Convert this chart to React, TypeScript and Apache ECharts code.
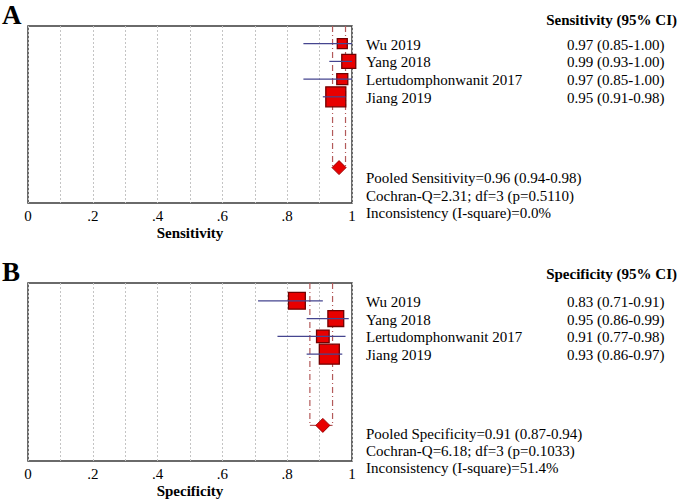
import React, { useEffect, useRef } from "react";
import * as echarts from "echarts";

const studies = ["Wu 2019", "Yang 2018", "Lertudomphonwanit 2017", "Jiang 2019"];
const sensEst = [0.97, 0.99, 0.97, 0.95];
const sensLo = [0.85, 0.93, 0.85, 0.91];
const sensHi = [1.0, 1.0, 1.0, 0.98];
const sensWeights = [0.5, 0.7, 0.55, 1.0];
const specEst = [0.83, 0.95, 0.91, 0.93];
const specLo = [0.71, 0.86, 0.77, 0.86];
const specHi = [0.91, 0.99, 0.98, 0.97];
const specWeights = [0.84, 0.79, 0.63, 1.0];
const sensPooled = [0.96, 0.94, 0.98];
const specPooled = [0.91, 0.87, 0.94];
const sensStats = ["Cochran-Q=2.31; df=3 (p=0.5110)", "Inconsistency (I-square)=0.0%"];
const specStats = ["Cochran-Q=6.18; df=3 (p=0.1033)", "Inconsistency (I-square)=51.4%"];
const xTicks = ["0", ".2", ".4", ".6", ".8", "1"];

const FONT = "Liberation Serif";
const rows = [1, 2, 3, 4];
const pooledRow = 8;

const fmt = (e: number, l: number, h: number) =>
  `${e.toFixed(2)} (${l.toFixed(2)}-${h.toFixed(2)})`;

function studyRender(params: any, api: any) {
  const est = api.value(0), lo = api.value(1), hi = api.value(2), row = api.value(3), w = api.value(4);
  const c = api.coord([est, row]);
  const l = api.coord([lo, row]);
  const h = api.coord([hi, row]);
  const s = w * 20;
  return {
    type: "group",
    children: [
      {
        type: "rect",
        shape: { x: c[0] - s / 2, y: c[1] - s / 2, width: s, height: s },
        style: { fill: "#e80000", stroke: "#700000", lineWidth: 1.3 },
      },
      {
        type: "line",
        shape: { x1: l[0], y1: l[1], x2: h[0], y2: h[1] },
        style: { stroke: "#45458f", lineWidth: 1.2 },
      },
    ],
  };
}

function pooledRender(params: any, api: any) {
  const est = api.value(0), lo = api.value(1), hi = api.value(2), row = api.value(3);
  const c = api.coord([est, row]);
  const lTop = api.coord([lo, 0]);
  const hTop = api.coord([hi, 0]);
  const lB = api.coord([lo, row]);
  const hB = api.coord([hi, row]);
  const dash = { stroke: "#b35a5a", lineWidth: 1.2, lineDash: [6, 3, 1, 3] };
  const d = 7;
  return {
    type: "group",
    children: [
      { type: "line", shape: { x1: lTop[0], y1: lTop[1], x2: lB[0], y2: lB[1] }, style: dash },
      { type: "line", shape: { x1: hTop[0], y1: hTop[1], x2: hB[0], y2: hB[1] }, style: dash },
      { type: "line", shape: { x1: lB[0], y1: lB[1], x2: hB[0], y2: hB[1] }, style: { stroke: "#b35a5a", lineWidth: 1.2 } },
      {
        type: "polygon",
        shape: { points: [[c[0] - d, c[1]], [c[0], c[1] - d], [c[0] + d, c[1]], [c[0], c[1] + d]] },
        style: { fill: "#e80000", stroke: "#9a0000", lineWidth: 1 },
      },
    ],
  };
}

const panels = [
  { letter: "A", top: 26, height: 177, name: "Sensitivity", est: sensEst, lo: sensLo, hi: sensHi, w: sensWeights, pooled: sensPooled, stats: sensStats, headerY: 20, pooledY: [178, 196, 213] },
  { letter: "B", top: 283, height: 178, name: "Specificity", est: specEst, lo: specLo, hi: specHi, w: specWeights, pooled: specPooled, stats: specStats, headerY: 274, pooledY: [434, 451, 468] },
];

function txt(x: number, y: number, text: string, size: number, bold: boolean, align: string) {
  return {
    type: "text", x, y,
    style: {
      text, fontFamily: FONT, fontSize: size, fontWeight: bold ? "bold" : "normal",
      fill: "#000", textAlign: align, textVerticalAlign: "middle",
    },
  };
}

export default function App() {
  const ref = useRef<HTMLDivElement>(null);
  useEffect(() => {
    if (!ref.current) return;
    const chart = echarts.init(ref.current, null, { renderer: "svg" });
    const grids: any[] = [];
    const xAxes: any[] = [];
    const yAxes: any[] = [];
    const series: any[] = [];
    const graphics: any[] = [];
    panels.forEach((p, i) => {
      grids.push({ left: 28, top: p.top, width: 324, height: p.height, show: true, borderColor: "#3a3a3a", borderWidth: 1.5, backgroundColor: "#fff" });
      xAxes.push({
        type: "value", gridIndex: i, min: 0, max: 1, interval: 0.1,
        axisLine: { show: false }, axisTick: { show: false },
        splitLine: { show: true, lineStyle: { type: [2, 2], color: "#c4c4c4", width: 1 } },
        axisLabel: {
          margin: 5, fontFamily: FONT, fontSize: 15, color: "#000",
          formatter: (v: number) => { const r = Math.round(v * 10); return r % 2 === 0 ? xTicks[r / 2] : ""; },
        },
        name: p.name, nameLocation: "middle", nameGap: 22,
        nameTextStyle: { fontFamily: FONT, fontSize: 15, fontWeight: "bold", color: "#000" },
      });
      yAxes.push({ type: "value", gridIndex: i, min: 0, max: 10, inverse: true, show: false });
      series.push({
        type: "custom", xAxisIndex: i, yAxisIndex: i, renderItem: pooledRender, clip: false,
        data: [[p.pooled[0], p.pooled[1], p.pooled[2], pooledRow]],
      });
      series.push({
        type: "custom", xAxisIndex: i, yAxisIndex: i, renderItem: studyRender, clip: false,
        data: studies.map((_, k) => [p.est[k], p.lo[k], p.hi[k], rows[k], p.w[k]]),
      });
      const rowH = p.height / 10;
      graphics.push(txt(2, p.top - 11, p.letter, 27, true, "left"));
      graphics.push(txt(677, p.headerY, `${p.name} (95% CI)`, 15, true, "right"));
      studies.forEach((s, k) => {
        const y = p.top + rows[k] * rowH + 1;
        graphics.push(txt(366, y, s, 15, false, "left"));
        graphics.push(txt(567, y, fmt(p.est[k], p.lo[k], p.hi[k]), 15, false, "left"));
      });
      const lines = [`Pooled ${p.name}=${fmt(p.pooled[0], p.pooled[1], p.pooled[2])}`, ...p.stats];
      lines.forEach((t, k) => graphics.push(txt(366, p.pooledY[k], t, 15, false, "left")));
    });
    chart.setOption({
      animation: false,
      backgroundColor: "#fff",
      textStyle: { fontFamily: FONT },
      grid: grids, xAxis: xAxes, yAxis: yAxes, series, graphic: graphics,
    });
    return () => chart.dispose();
  }, []);
  return <div ref={ref} style={{ position: "fixed", left: 0, top: 0, width: 685, height: 499 }} />;
}
